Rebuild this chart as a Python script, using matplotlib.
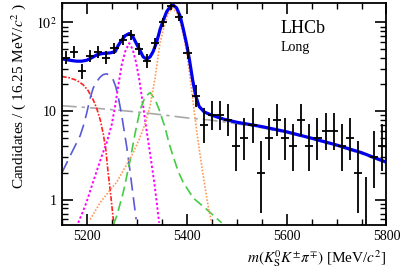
import numpy as np
import matplotlib
matplotlib.use("Agg")
import matplotlib.pyplot as plt
from matplotlib.ticker import FixedLocator, LogLocator, FuncFormatter, NullFormatter

# binning: 40 bins of 16.25 MeV between 5150 and 5800
lo_edge, hi_edge, nbins = 5150.0, 5800.0, 40

# data counts per bin
counts = [40, 46, 28, 42, 46, 40, 51, 64, 72, 50,
          37, 58, 100, 152, 115, 45, 15, 7, 9, 9,
          8, 4, 5, 7, 2, 5, 8, 5, 4, 8,
          4, 5, 6, 6, 4, 5, 2, 0, 3, 4]

# total fit (blue solid)
tot_m = [5150, 5160, 5170, 5180, 5190, 5200, 5210, 5220, 5230, 5240, 5248, 5257,
         5263, 5270, 5277, 5285, 5292, 5300, 5307, 5313, 5320, 5327, 5333, 5340,
         5347, 5353, 5360, 5367, 5373, 5380, 5387, 5393, 5400, 5406, 5412, 5418,
         5425, 5435, 5450, 5475, 5500, 5550, 5600, 5650, 5700, 5750, 5800]
tot_y = [39, 38, 37.2, 36.6, 36.6, 37.5, 40, 43, 44.5, 45, 45.5, 47,
         55, 63, 71, 75, 70, 57, 48, 41, 38.5, 41, 47, 60,
         84, 105, 132, 151, 157, 146, 118, 86, 57, 37, 22.5, 15,
         11.3, 9.8, 9.0, 8.1, 7.5, 6.7, 5.85, 4.95, 4.15, 3.4, 2.65]

# combinatorial background (grey dash-dot)
bkg_m = [5150, 5200, 5250, 5300, 5350, 5400, 5450, 5500, 5550, 5600, 5650, 5700, 5750, 5800]
bkg_y = [11.5, 11.0, 10.4, 9.8, 9.1, 8.4, 7.9, 7.2, 6.5, 5.7, 4.85, 4.05, 3.3, 2.58]

# partially reconstructed (red dash-dot)
red_m = [5150, 5165, 5180, 5193, 5203, 5213, 5220, 5227, 5233, 5238, 5243, 5248, 5252, 5256]
red_y = [24.6, 23.8, 22.3, 19.8, 17, 13.4, 10.8, 8.0, 5.6, 3.8, 2.0, 1.15, 0.7, 0.45]

# blue dashed component
bd_m = [5150, 5160, 5170, 5180, 5187, 5195, 5200, 5207, 5213, 5220, 5227, 5233, 5240,
        5247, 5253, 5258, 5263, 5270, 5275, 5280, 5285, 5290, 5299]
bd_y = [2.0, 2.6, 3.4, 4.4, 5.3, 7.3, 9.5, 14, 18.2, 21.5, 24.2, 25.8, 26.4,
        25, 22.6, 19, 14.7, 9.0, 6.0, 4.0, 2.5, 1.5, 0.6]

# magenta dotted component
mg_m = [5183, 5193, 5200, 5210, 5220, 5230, 5240, 5250, 5257, 5263, 5270, 5277, 5285,
        5292, 5299, 5305, 5310, 5315, 5320, 5325, 5330, 5335, 5340, 5345]
mg_y = [0.55, 0.75, 0.95, 1.42, 2.1, 3.1, 4.4, 7.0, 11.5, 19, 33, 47, 58.5,
        50, 35, 23, 15, 9.5, 6.0, 3.9, 2.5, 1.6, 0.95, 0.55]

# green dashed component
gr_m = [5253, 5260, 5273, 5287, 5297, 5307, 5317, 5327, 5337, 5345, 5357, 5365, 5373,
        5383, 5393, 5413, 5440, 5470]
gr_y = [0.52, 0.65, 1.2, 2.8, 5.66, 10.4, 14.5, 16.2, 13.5, 10.4, 6.5, 4.3, 3.1,
        2.1, 1.58, 1.05, 0.78, 0.55]

# orange dotted component (main peak)
or_m = [5207, 5227, 5245, 5260, 5280, 5293, 5305, 5317, 5327, 5337, 5347, 5355, 5362,
        5372, 5380, 5387, 5394, 5400, 5406, 5412, 5420, 5427, 5433, 5443, 5450]
or_y = [0.6, 0.93, 1.25, 1.58, 2.5, 3.4, 4.8, 7.2, 11.5, 24, 60, 90, 124,
        146, 130, 102, 70, 47, 26, 14, 6.0, 3.2, 1.9, 0.85, 0.55]

plt.rcParams['font.family'] = ['Liberation Serif', 'DejaVu Serif']
plt.rcParams['mathtext.fontset'] = 'stix'

fig = plt.figure(figsize=(4.07, 2.74), dpi=100)
ax = fig.add_axes([0.1516, 0.179, 0.7980, 0.811])

ax.plot(bkg_m, bkg_y, color='#a8a8a8', lw=1.2, ls=(0, (9, 3, 2, 3)))
ax.plot(red_m, red_y, color='#ff2020', lw=1.2, ls=(0, (3, 1, 1, 1)))
ax.plot(bd_m, bd_y, color='#5a5ad8', lw=1.2, ls=(0, (8, 4)))
ax.plot(mg_m, mg_y, color='#ff00ff', lw=1.4, ls=(0, (1.2, 1.2)))
ax.plot(gr_m, gr_y, color='#44cc44', lw=1.2, ls=(0, (6, 3)))
ax.plot(or_m, or_y, color='#ff9955', lw=1.2, ls=(0, (1, 1)))
ax.plot(tot_m, tot_y, color='#0000ee', lw=2.3, solid_capstyle='round')

# data with Poisson (Garwood-like) intervals
n = np.array(counts, dtype=float)
width = (hi_edge - lo_edge) / nbins
centers = lo_edge + width * (np.arange(nbins) + 0.5)
with np.errstate(divide='ignore', invalid='ignore'):
    low = np.where(n > 0, n * (1 - 1 / (9 * n) - 1 / (3 * np.sqrt(n))) ** 3, 1e-3)
high = (n + 1) * (1 - 1 / (9 * (n + 1)) + 1 / (3 * np.sqrt(n + 1))) ** 3
ax.vlines(centers, low, high, color='black', lw=1.3, zorder=5)
nz = n > 0
ax.hlines(n[nz], centers[nz] - width / 2, centers[nz] + width / 2, color='black', lw=1.3, zorder=5)

ax.set_yscale('log')
ax.set_xlim(lo_edge, hi_edge)
ax.set_ylim(0.52, 167)

ax.xaxis.set_major_locator(FixedLocator([5200, 5400, 5600, 5800]))
ax.xaxis.set_minor_locator(FixedLocator(np.arange(5150, 5801, 50)))
ax.yaxis.set_major_locator(FixedLocator([1, 10, 100]))
ax.yaxis.set_minor_locator(LogLocator(base=10, subs=np.arange(2, 10)))
ylabels = {1: '1', 10: '10', 100: '$10^{2}$'}
ax.yaxis.set_major_formatter(FuncFormatter(lambda v, p: ylabels.get(int(round(v)), '')))
ax.yaxis.set_minor_formatter(NullFormatter())

ax.tick_params(which='both', direction='in', top=True, right=True, labelsize=10)
ax.tick_params(which='major', length=8, width=1.2)
ax.tick_params(which='minor', length=4, width=1.0)
for s in ax.spines.values():
    s.set_linewidth(1.3)

ax.set_ylabel(r'Candidates / ( 16.25 MeV/$c^{2}$ )', fontsize=11, loc='top', labelpad=6)
ax.set_xlabel(r'$m(K^{0}_{\rm S}K^{\pm}\pi^{\mp})$ [MeV/$c^{2}$]', fontsize=11, loc='right', labelpad=4)

ax.text(0.675, 0.865, 'LHCb', transform=ax.transAxes, fontsize=13)
ax.text(0.675, 0.785, 'Long', transform=ax.transAxes, fontsize=10)

fig.savefig('out.png', dpi=100)
